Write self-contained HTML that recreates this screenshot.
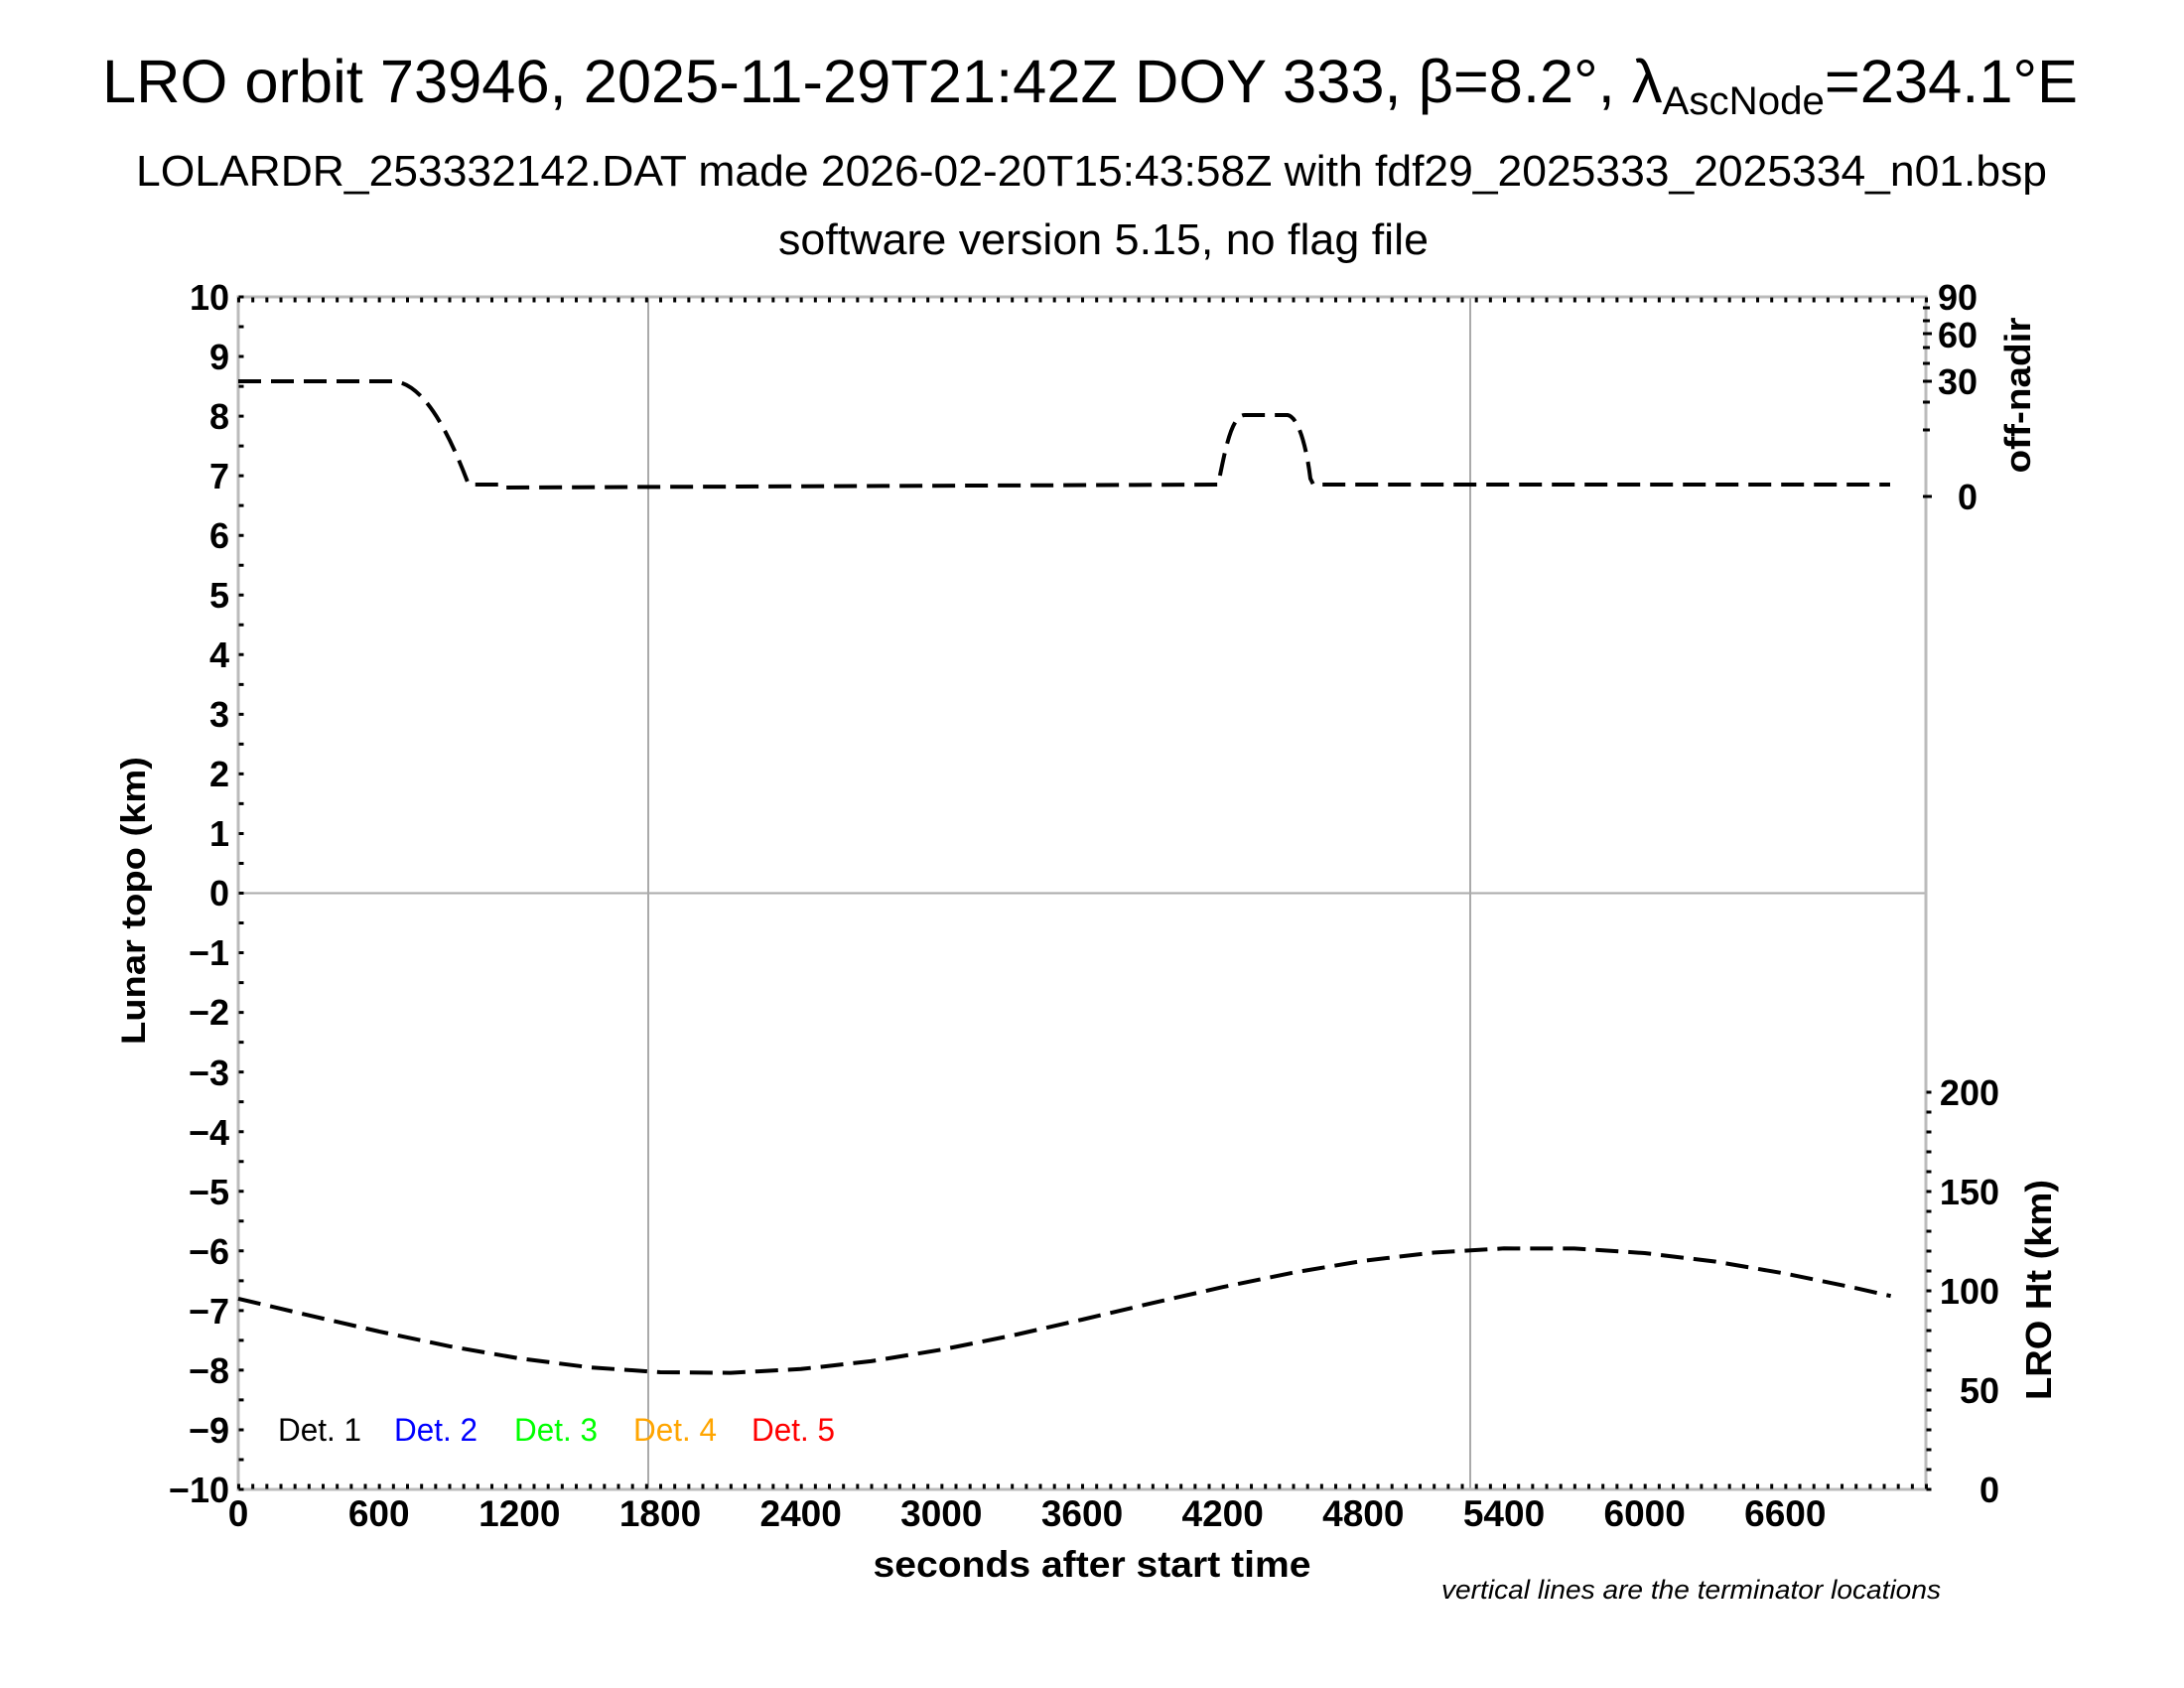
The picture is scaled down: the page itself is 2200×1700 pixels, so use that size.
<!DOCTYPE html>
<html><head><meta charset="utf-8"><style>
html,body{margin:0;padding:0;background:#fff;}
svg{display:block;}
text{font-family:"Liberation Sans",Arial,sans-serif;}
.b{font-weight:bold;}
</style></head><body>
<svg width="2200" height="1700" viewBox="0 0 2200 1700" xmlns="http://www.w3.org/2000/svg">
<rect width="2200" height="1700" fill="#fff"/>
<!-- titles -->
<text x="103" y="103" font-size="61" textLength="1990" lengthAdjust="spacingAndGlyphs">LRO orbit 73946, 2025-11-29T21:42Z DOY 333, β=8.2°, λ<tspan font-size="40" dy="12">AscNode</tspan><tspan dy="-12">=234.1°E</tspan></text>
<text x="137" y="187" font-size="44" textLength="1925" lengthAdjust="spacingAndGlyphs">LOLARDR_253332142.DAT made 2026-02-20T15:43:58Z with fdf29_2025333_2025334_n01.bsp</text>
<text x="784" y="256" font-size="44" textLength="655" lengthAdjust="spacingAndGlyphs">software version 5.15, no flag file</text>

<!-- grid lines -->
<line x1="240" y1="899.5" x2="1940" y2="899.5" stroke="#aaa" stroke-width="2"/>
<line x1="653" y1="299" x2="653" y2="1500" stroke="#aaa" stroke-width="2"/>
<line x1="1481" y1="299" x2="1481" y2="1500" stroke="#aaa" stroke-width="2"/>

<!-- frame -->
<rect x="240" y="299" width="1700" height="1201" fill="none" stroke="#bbb" stroke-width="3"/>

<!-- ticks -->
<line x1="239" y1="1497" x2="1942" y2="1497" stroke="#000" stroke-width="5" stroke-dasharray="3 11.167"/>
<line x1="239" y1="302" x2="1942" y2="302" stroke="#000" stroke-width="5" stroke-dasharray="3 11.167"/>
<line x1="243" y1="297.5" x2="243" y2="1502" stroke="#000" stroke-width="5" stroke-dasharray="3 27.025"/>
<line x1="1943" y1="1098.5" x2="1943" y2="1502" stroke="#000" stroke-width="5" stroke-dasharray="3 17"/>
<g stroke="#000" stroke-width="3">
<line x1="1937" y1="500" x2="1946" y2="500"/>
<line x1="1937" y1="433" x2="1944" y2="433"/>
<line x1="1937" y1="405" x2="1944" y2="405"/>
<line x1="1937" y1="384" x2="1946" y2="384"/>
<line x1="1937" y1="366" x2="1944" y2="366"/>
<line x1="1937" y1="350" x2="1944" y2="350"/>
<line x1="1937" y1="336" x2="1946" y2="336"/>
<line x1="1937" y1="323" x2="1944" y2="323"/>
<line x1="1937" y1="310" x2="1944" y2="310"/>
</g>

<!-- left tick labels -->
<g class="b" font-size="36" text-anchor="end">
<text x="231" y="312">10</text>
<text x="231" y="372">9</text>
<text x="231" y="432">8</text>
<text x="231" y="492">7</text>
<text x="231" y="552">6</text>
<text x="231" y="612">5</text>
<text x="231" y="672">4</text>
<text x="231" y="732">3</text>
<text x="231" y="792">2</text>
<text x="231" y="852">1</text>
<text x="231" y="912">0</text>
<text x="231" y="972">−1</text>
<text x="231" y="1032">−2</text>
<text x="231" y="1093">−3</text>
<text x="231" y="1153">−4</text>
<text x="231" y="1213">−5</text>
<text x="231" y="1273">−6</text>
<text x="231" y="1333">−7</text>
<text x="231" y="1393">−8</text>
<text x="231" y="1453">−9</text>
<text x="231" y="1513">−10</text>
</g>
<!-- bottom tick labels -->
<g class="b" font-size="37" text-anchor="middle">
<text x="240" y="1537">0</text>
<text x="381.7" y="1537">600</text>
<text x="523.3" y="1537">1200</text>
<text x="665" y="1537">1800</text>
<text x="806.7" y="1537">2400</text>
<text x="948.3" y="1537">3000</text>
<text x="1090" y="1537">3600</text>
<text x="1231.7" y="1537">4200</text>
<text x="1373.3" y="1537">4800</text>
<text x="1515" y="1537">5400</text>
<text x="1656.7" y="1537">6000</text>
<text x="1798.3" y="1537">6600</text>
</g>
<!-- right tick labels -->
<g class="b" font-size="36" text-anchor="end">
<text x="1992" y="312">90</text>
<text x="1992" y="350">60</text>
<text x="1992" y="397">30</text>
<text x="1992" y="513">0</text>
<text x="2014" y="1113">200</text>
<text x="2014" y="1213">150</text>
<text x="2014" y="1313">100</text>
<text x="2014" y="1413">50</text>
<text x="2014" y="1513">0</text>
</g>

<!-- axis titles -->
<text class="b" x="1100" y="1602" font-size="37" text-anchor="middle" textLength="441" lengthAdjust="spacingAndGlyphs" transform="translate(0,-14)">seconds after start time</text>
<text class="b" font-size="34" text-anchor="middle" transform="translate(146,907) rotate(-90)" textLength="290" lengthAdjust="spacingAndGlyphs">Lunar topo (km)</text>
<text class="b" font-size="36" text-anchor="middle" transform="translate(2045,398) rotate(-90)" textLength="157" lengthAdjust="spacingAndGlyphs">off-nadir</text>
<text class="b" font-size="36" text-anchor="middle" transform="translate(2066,1299) rotate(-90)" textLength="222" lengthAdjust="spacingAndGlyphs">LRO Ht (km)</text>
<text x="1452" y="1627" font-size="27" font-style="italic" textLength="503" lengthAdjust="spacingAndGlyphs" transform="translate(0,-17)">vertical lines are the terminator locations</text>

<!-- legend -->
<g font-size="32">
<text x="280" y="1451" fill="#000" textLength="84" lengthAdjust="spacingAndGlyphs">Det. 1</text>
<text x="397" y="1451" fill="#0000ff" textLength="84" lengthAdjust="spacingAndGlyphs">Det. 2</text>
<text x="518" y="1451" fill="#00ff00" textLength="84" lengthAdjust="spacingAndGlyphs">Det. 3</text>
<text x="638" y="1451" fill="#ffa500" textLength="84" lengthAdjust="spacingAndGlyphs">Det. 4</text>
<text x="757" y="1451" fill="#ff0000" textLength="84" lengthAdjust="spacingAndGlyphs">Det. 5</text>
</g>

<!-- off-nadir series -->
<path d="M240,384 L395,384 Q433,384 472,488 L505,488 L507,491 L1227,488 C1234,455 1240,418 1254,418 L1297,418 C1308,420 1316,450 1320,482 L1323,488 L1904,488" fill="none" stroke="#000" stroke-width="4" stroke-dasharray="23 10"/>

<!-- LRO height series -->
<polyline points="240,1307.9 310.8,1324.6 381.7,1340.9 452.5,1355.8 523.3,1368.1 594.2,1377.1 665,1382 735.8,1382.6 806.7,1378.8 877.5,1370.9 948.3,1359.3 1019.2,1345.1 1090,1329 1160.8,1312.3 1231.7,1296.2 1302.5,1281.7 1373.3,1269.8 1444.2,1261.5 1515,1257.3 1585.8,1257.4 1656.7,1262 1727.5,1270.5 1798.3,1282.6 1869.2,1297.2 1904.6,1305.2" fill="none" stroke="#000" stroke-width="4" stroke-dasharray="23 10" stroke-linejoin="round"/>
</svg>
</body></html>
